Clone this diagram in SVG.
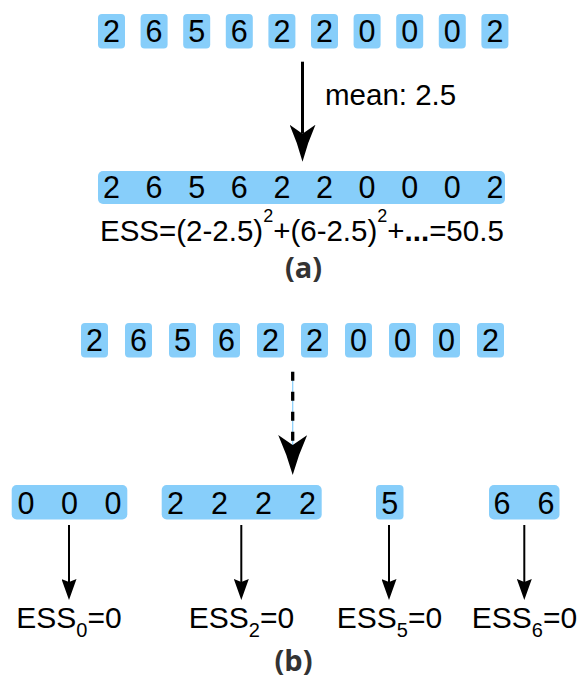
<svg xmlns="http://www.w3.org/2000/svg" width="578" height="679" viewBox="0 0 578 679">
<style>
.box{fill:#87cefa}
.d{font-family:"Liberation Sans",Arial,sans-serif;font-size:30.5px;fill:#000;text-anchor:middle}
.t{font-family:"Liberation Sans",Arial,sans-serif;font-size:29.5px;fill:#000}
.e{font-family:"Liberation Sans",Arial,sans-serif;font-size:30px;fill:#000;text-anchor:middle}
.cap{font-family:"Open Sans","DejaVu Sans",sans-serif;font-weight:bold;font-size:29px;fill:#333;text-anchor:middle}
.ln{stroke:#000;fill:none}
</style>
<defs>
<marker id="aBig" markerUnits="userSpaceOnUse" viewBox="0 0 37 26" markerWidth="37" markerHeight="26" refX="9" refY="13" orient="auto">
<path d="M0,0 Q18,8 37,13 Q18,18 0,26 L9,13 Z" fill="#000"/>
</marker>
<marker id="aDash" markerUnits="userSpaceOnUse" viewBox="0 0 40 29" markerWidth="40" markerHeight="29" refX="10" refY="14.5" orient="auto">
<path d="M0,0 Q20,9 40,14.5 Q20,20 0,29 L10,14.5 Z" fill="#000"/>
</marker>
<marker id="aSm" markerUnits="userSpaceOnUse" viewBox="0 0 21 15" markerWidth="21" markerHeight="15" refX="3" refY="7.5" orient="auto">
<path d="M0,0 L21,7.5 L0,15 L3,7.5 Z" fill="#000"/>
</marker>
</defs>

<g id="row-a">
<rect class="box" x="98" y="14" width="27" height="34.5" rx="4"/>
<rect class="box" x="140.6" y="14" width="27" height="34.5" rx="4"/>
<rect class="box" x="183.2" y="14" width="27" height="34.5" rx="4"/>
<rect class="box" x="225.8" y="14" width="27" height="34.5" rx="4"/>
<rect class="box" x="268.4" y="14" width="27" height="34.5" rx="4"/>
<rect class="box" x="311" y="14" width="27" height="34.5" rx="4"/>
<rect class="box" x="353.6" y="14" width="27" height="34.5" rx="4"/>
<rect class="box" x="396.2" y="14" width="27" height="34.5" rx="4"/>
<rect class="box" x="438.8" y="14" width="27" height="34.5" rx="4"/>
<rect class="box" x="481.4" y="14" width="27" height="34.5" rx="4"/>
<text class="d" x="111.5" y="42">2</text>
<text class="d" x="154.1" y="42">6</text>
<text class="d" x="196.7" y="42">5</text>
<text class="d" x="239.3" y="42">6</text>
<text class="d" x="281.9" y="42">2</text>
<text class="d" x="324.5" y="42">2</text>
<text class="d" x="367.1" y="42">0</text>
<text class="d" x="409.7" y="42">0</text>
<text class="d" x="452.3" y="42">0</text>
<text class="d" x="494.9" y="42">2</text>
</g>

<g id="bar-a">
<rect class="box" x="98" y="171" width="407" height="33" rx="5"/>
<text class="d" x="111.5" y="198">2</text>
<text class="d" x="154.1" y="198">6</text>
<text class="d" x="196.7" y="198">5</text>
<text class="d" x="239.3" y="198">6</text>
<text class="d" x="281.9" y="198">2</text>
<text class="d" x="324.5" y="198">2</text>
<text class="d" x="367.1" y="198">0</text>
<text class="d" x="409.7" y="198">0</text>
<text class="d" x="452.3" y="198">0</text>
<text class="d" x="494.9" y="198">2</text>
</g>

<g id="ess-a">
<text class="t" x="100" y="241">ESS=(2-2.5)<tspan font-size="18" dy="-19">2</tspan><tspan dy="19">+(6-2.5)</tspan><tspan font-size="18" dy="-19">2</tspan><tspan dy="19">+</tspan><tspan font-weight="bold">...</tspan>=50.5</text>
</g>

<g id="label-mean">
<text class="t" x="325" y="105" font-size="28">mean: 2.5</text>
</g>

<g id="cap-a"><text class="cap" x="303.5" y="278">(a)</text></g>

<g id="row-b">
<rect class="box" x="81" y="323" width="27" height="34.5" rx="4"/>
<rect class="box" x="125" y="323" width="27" height="34.5" rx="4"/>
<rect class="box" x="169" y="323" width="27" height="34.5" rx="4"/>
<rect class="box" x="213" y="323" width="27" height="34.5" rx="4"/>
<rect class="box" x="257" y="323" width="27" height="34.5" rx="4"/>
<rect class="box" x="301" y="323" width="27" height="34.5" rx="4"/>
<rect class="box" x="345" y="323" width="27" height="34.5" rx="4"/>
<rect class="box" x="389" y="323" width="27" height="34.5" rx="4"/>
<rect class="box" x="433" y="323" width="27" height="34.5" rx="4"/>
<rect class="box" x="477" y="323" width="27" height="34.5" rx="4"/>
<text class="d" x="94.5" y="351">2</text>
<text class="d" x="138.5" y="351">6</text>
<text class="d" x="182.5" y="351">5</text>
<text class="d" x="226.5" y="351">6</text>
<text class="d" x="270.5" y="351">2</text>
<text class="d" x="314.5" y="351">2</text>
<text class="d" x="358.5" y="351">0</text>
<text class="d" x="402.5" y="351">0</text>
<text class="d" x="446.5" y="351">0</text>
<text class="d" x="490.5" y="351">2</text>
</g>

<g id="group-0">
<rect class="box" x="11.7" y="485" width="115.6" height="34.5" rx="5"/>
<text class="d" x="26" y="513.5">0</text>
<text class="d" x="69.5" y="513.5">0</text>
<text class="d" x="113" y="513.5">0</text>
</g>
<g id="group-2">
<rect class="box" x="161.7" y="485" width="160" height="34.5" rx="5"/>
<text class="d" x="175.5" y="513.5">2</text>
<text class="d" x="219.5" y="513.5">2</text>
<text class="d" x="263.5" y="513.5">2</text>
<text class="d" x="307.5" y="513.5">2</text>
</g>
<g id="group-5">
<rect class="box" x="376" y="485" width="27.5" height="34.5" rx="4"/>
<text class="d" x="389.7" y="513.5">5</text>
</g>
<g id="group-6">
<rect class="box" x="489" y="485" width="70.5" height="34.5" rx="5"/>
<text class="d" x="502" y="513.5">6</text>
<text class="d" x="546" y="513.5">6</text>
</g>

<g id="ess-b">
<text class="e" x="69" y="628">ESS<tspan font-size="20" dy="9">0</tspan><tspan dy="-9">=0</tspan></text>
<text class="e" x="241.5" y="628">ESS<tspan font-size="20" dy="9">2</tspan><tspan dy="-9">=0</tspan></text>
<text class="e" x="389.5" y="628">ESS<tspan font-size="20" dy="9">5</tspan><tspan dy="-9">=0</tspan></text>
<text class="e" x="524.5" y="628">ESS<tspan font-size="20" dy="9">6</tspan><tspan dy="-9">=0</tspan></text>
</g>

<g id="cap-b"><text class="cap" x="293.5" y="671">(b)</text></g>

<g id="connectors">
<line class="ln" x1="302.5" y1="61.7" x2="302.5" y2="133.7" stroke-width="3" marker-end="url(#aBig)"/>
<line x1="292.7" y1="371.7" x2="292.7" y2="445" stroke="#87cefa" stroke-width="1.2"/>
<line class="ln" x1="292.7" y1="371.7" x2="292.7" y2="445" stroke-width="3.3" stroke-dasharray="9 11" marker-end="url(#aDash)"/>
<line class="ln" x1="69" y1="525" x2="69" y2="582" stroke-width="2" marker-end="url(#aSm)"/>
<line class="ln" x1="241.3" y1="525" x2="241.3" y2="582" stroke-width="2" marker-end="url(#aSm)"/>
<line class="ln" x1="389" y1="525" x2="389" y2="582" stroke-width="2" marker-end="url(#aSm)"/>
<line class="ln" x1="524.3" y1="525" x2="524.3" y2="582" stroke-width="2" marker-end="url(#aSm)"/>
</g>
</svg>
